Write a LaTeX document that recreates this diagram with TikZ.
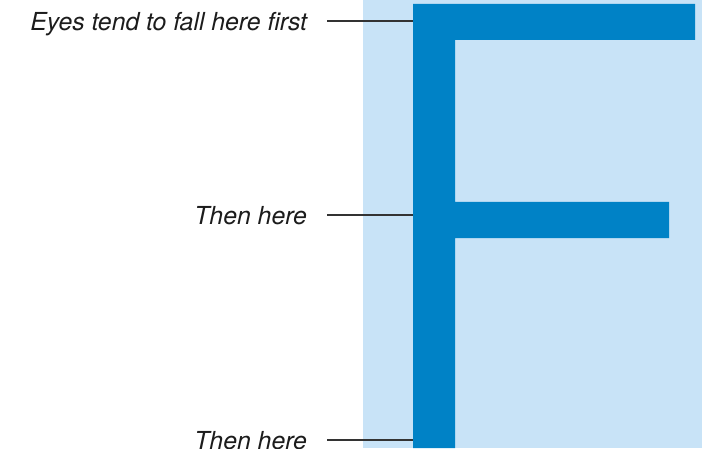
\documentclass[tikz,border=0pt]{standalone}
\usepackage{fontspec}
\setsansfont{TeX Gyre Heros}
\usepackage{xcolor}
\usetikzlibrary{positioning,calc}
\definecolor{fpale}{HTML}{C8E3F7}
\definecolor{fblue}{HTML}{0082C6}
\definecolor{fink}{HTML}{1C1C1C}
\tikzset{
  gaze/.style  ={anchor=east, font=\sffamily\itshape\fontsize{24.8}{28}\selectfont,
                 text=fink, inner xsep=0pt, inner ysep=0pt, outer xsep=20pt,
                 text height=19pt, text depth=0pt},
  leader/.style={draw=fink!90, line width=1.1pt},
  panel/.style ={fill=fpale, draw=none},
  letter/.style={fill=fblue, draw=none},
}

\begin{document}
\begin{tikzpicture}[x=1pt,y=1pt]
  \useasboundingbox[fill=white] (0,0) rectangle (702,448);

  % ---- the pale panel and the F ------------------------------------------
  \fill[panel] (363,0) rectangle (702,448);
  \fill[letter] (413,0) -- (413,444) -- (695,444) -- (695,408) -- (455,408)
    -- (455,246) -- (669,246) -- (669,210) -- (455,210) -- (455,0) -- cycle;

  % where the eye lands
  \coordinate (hit1) at (413,427);
  \coordinate (hit2) at (413,233);
  \coordinate (hit3) at (413,8);

  % ---- labels -------------------------------------------------------------
  \node[gaze] (first)  at (327,427) {Eyes tend to fall here first};
  \node[gaze] (second) at (327,233) {Then here};
  \node[gaze] (third)  at (327,8)   {Then here};

  \draw[leader] (first.east)  -- (hit1);
  \draw[leader] (second.east) -- (hit2);
  \draw[leader] (third.east)  -- (hit3);
\end{tikzpicture}
\end{document}
